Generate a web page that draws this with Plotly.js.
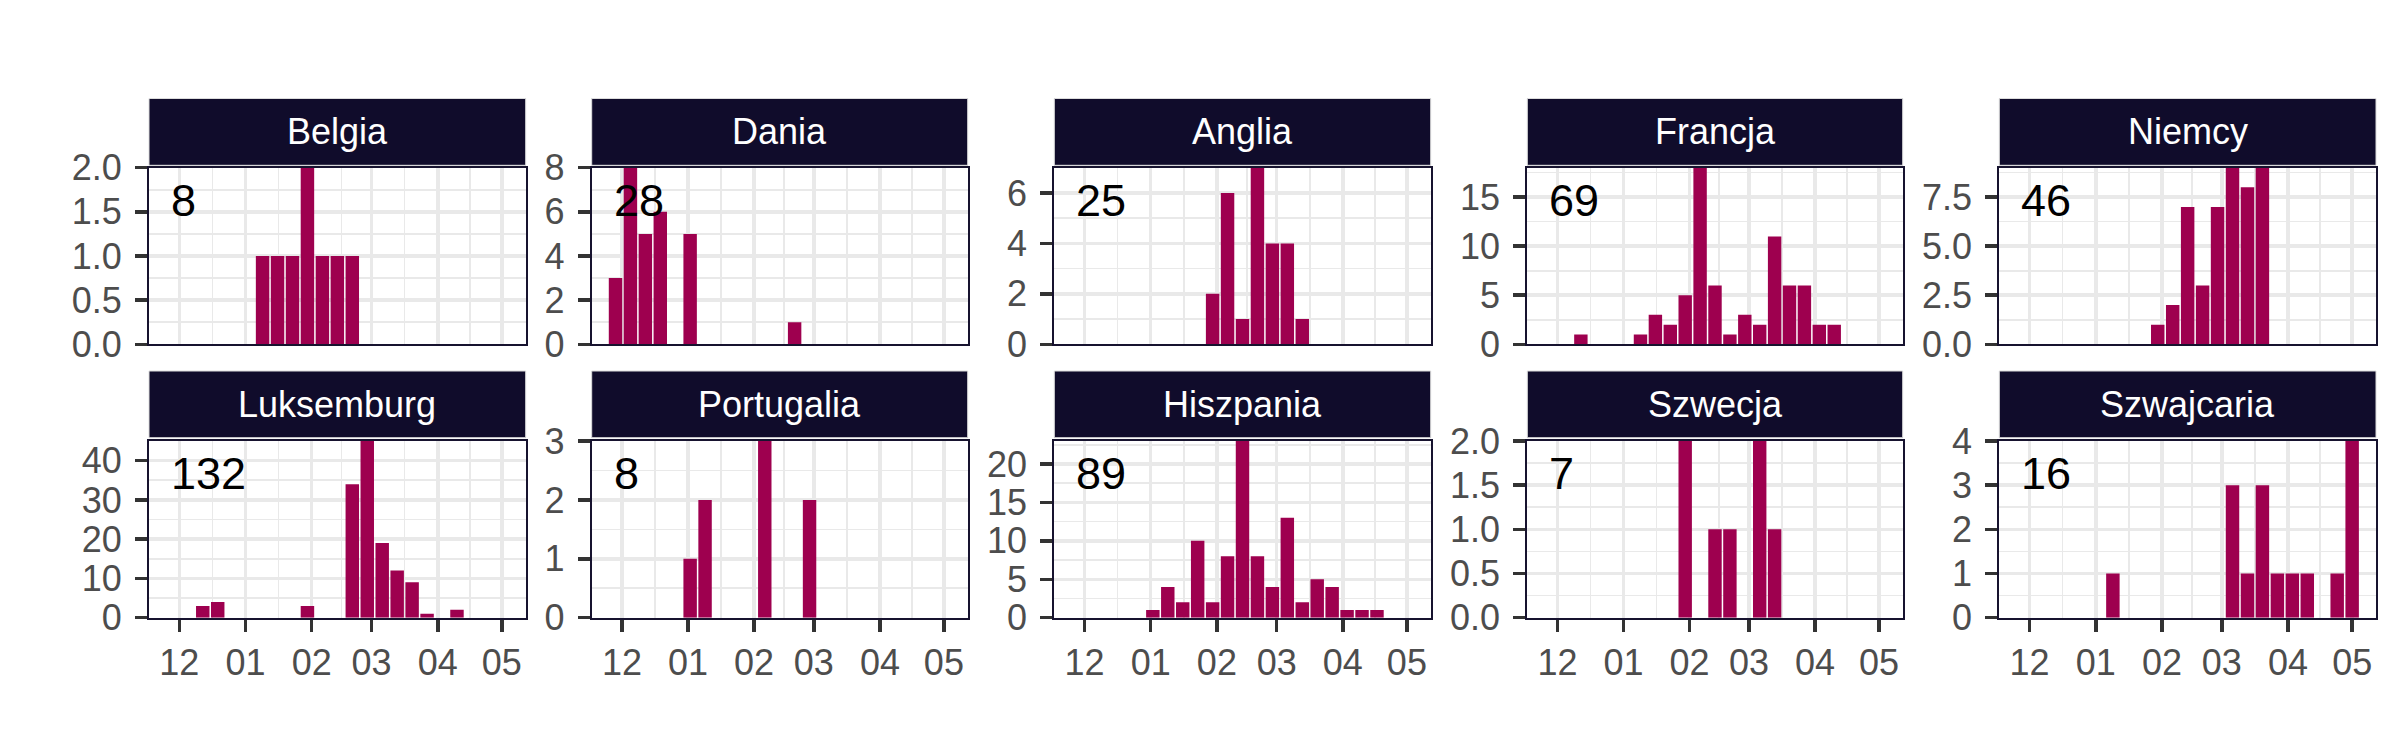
<!DOCTYPE html>
<html>
<head>
<meta charset="utf-8">
<script src="https://cdn.plot.ly/plotly-3.0.1.min.js"></script>
<style>html,body{margin:0;padding:0;background:#ffffff;}</style>
</head>
<body>
<div id="chart" style="width:2400px;height:750px;"></div>
<script>
// ---------- DATA ----------
const weeks = ['2022-11-28','2022-12-05','2022-12-12','2022-12-19','2022-12-26',
  '2023-01-02','2023-01-09','2023-01-16','2023-01-23','2023-01-30',
  '2023-02-06','2023-02-13','2023-02-20','2023-02-27',
  '2023-03-06','2023-03-13','2023-03-20','2023-03-27',
  '2023-04-03','2023-04-10','2023-04-17','2023-04-24','2023-05-01'];

const countries = ['Belgia','Dania','Anglia','Francja','Niemcy',
                   'Luksemburg','Portugalia','Hiszpania','Szwecja','Szwajcaria'];

const belgia     = [0,0,0,0,0,0,1,1,1,2,1,1,1,0,0,0,0,0,0,0,0,0,0];
const dania      = [3,8,5,6,0,5,0,0,0,0,0,0,1,0,0,0,0,0,0,0,0,0,0];
const anglia     = [0,0,0,0,0,0,0,0,0,2,6,1,7,4,4,1,0,0,0,0,0,0,0];
const francja    = [0,0,1,0,0,0,1,3,2,5,18,6,1,3,2,11,6,6,2,2,0,0,0];
const niemcy     = [0,0,0,0,0,0,0,0,0,1,2,7,3,7,9,8,9,0,0,0,0,0,0];
const luksemburg = [0,0,3,4,0,0,0,0,0,3,0,0,34,45,19,12,9,1,0,2,0,0,0];
const portugalia = [0,0,0,0,0,1,2,0,0,0,3,0,0,2,0,0,0,0,0,0,0,0,0];
const hiszpania  = [0,0,0,0,0,1,4,2,10,2,8,23,8,4,13,2,5,4,1,1,1,0,0];
const szwecja    = [0,0,0,0,0,0,0,0,0,2,0,1,1,0,2,1,0,0,0,0,0,0,0];
const szwajcaria = [0,0,0,0,0,0,1,0,0,0,0,0,0,0,3,1,3,1,1,1,0,1,4];

const totals = ['8','28','25','69','46','132','8','89','7','16'];

const monthTicks  = ['2022-12-01','2023-01-01','2023-02-01','2023-03-01','2023-04-01','2023-05-01'];
const monthLabels = ['12','01','02','03','04','05'];

// ---------- CONFIG ----------
const series = [belgia,dania,anglia,francja,niemcy,luksemburg,portugalia,hiszpania,szwecja,szwajcaria];
const yStep   = [0.5,2,2,5,2.5,10,1,5,0.5,1];
const yFmt    = ['.1f','','','','.1f','','','','.1f',''];

const W = 2400, H = 750;
const colX = [[149,525.7],[591.7,967.7],[1054.3,1430.7],[1527.3,1902.7],[1999.3,2376]];
const rowY = [[167.7,344.3],[441,617.7]];
const stripY = [[98.5,165.3],[371,437.7]];

const barColor = '#9e004f';
const stripColor = '#100c2b';
const borderColor = '#17132f';
const gridColor = '#e9e9e9';
const font = 'Liberation Sans, Arial, sans-serif';
const tickSize = 36;

const xRange = ['2022-11-16 20:02','2023-05-12 03:58'];
function mid(a,b){ const t=(new Date(a+'T00:00:00Z').getTime()+new Date(b+'T00:00:00Z').getTime())/2; return new Date(t).toISOString().replace('T',' ').slice(0,19); }
const minorX = [];
for (let i=0;i<monthTicks.length-1;i++) minorX.push(mid(monthTicks[i],monthTicks[i+1]));

const data = [];
const layout = {
  width: W, height: H,
  margin: {l:0,r:0,t:0,b:0},
  paper_bgcolor: '#ffffff', plot_bgcolor: '#ffffff',
  showlegend: false, bargap: 0.1,
  font: {family: font},
  shapes: [], annotations: []
};

countries.forEach((name,i)=>{
  const r = Math.floor(i/5), c = i%5;
  const ax = i===0 ? '' : String(i+1);
  data.push({
    type:'bar', x: weeks, y: series[i],
    xaxis:'x'+ax, yaxis:'y'+ax,
    marker:{color:barColor, line:{width:0}},
    hoverinfo:'skip'
  });
  const [x0,x1] = colX[c], [y0,y1] = rowY[r];
  const ymax = Math.max(...series[i]);
  layout['xaxis'+ax] = {
    type:'date', domain:[x0/W, x1/W], range: xRange, anchor:'y'+ax,
    tickmode:'array', tickvals: monthTicks, ticktext: monthLabels,
    showticklabels: r===1, ticks: r===1 ? 'outside' : '',
    ticklen: 12, tickwidth: 3.5, tickcolor:'#333333',
    tickfont:{family:font, size:tickSize, color:'#4d4d4d'},
    showgrid:true, gridcolor:gridColor, gridwidth:3.5,
    minor:{tickmode:'array', tickvals:minorX, showgrid:true, gridcolor:gridColor, gridwidth:1.6, ticks:''},
    showline:true, mirror:true, linecolor:borderColor, linewidth:2,
    zeroline:false, fixedrange:true
  };
  layout['yaxis'+ax] = {
    domain:[1-y1/H, 1-y0/H], range:[0,ymax], anchor:'x'+ax,
    tickmode:'linear', tick0:0, dtick:yStep[i], tickformat:yFmt[i],
    ticks:'outside', ticklen:12, tickwidth:3.5, tickcolor:'#333333',
    ticklabelstandoff: 6,
    tickfont:{family:font, size:tickSize, color:'#4d4d4d'},
    showgrid:true, gridcolor:gridColor, gridwidth:3.5,
    minor:{tick0:0, dtick:yStep[i]/2, showgrid:true, gridcolor:gridColor, gridwidth:1.6, ticks:''},
    showline:true, mirror:true, linecolor:borderColor, linewidth:2,
    zeroline:false, fixedrange:true
  };
  const [s0,s1] = stripY[r];
  layout.shapes.push({
    type:'rect', xref:'paper', yref:'paper',
    x0:x0/W, x1:x1/W, y0:1-s1/H, y1:1-s0/H,
    fillcolor:stripColor, line:{color:'#dcdcdc', width:1}, layer:'above'
  });
  layout.annotations.push({
    xref:'paper', yref:'paper', x:(x0+x1)/2/W, y:1-((s0+s1)/2)/H,
    xanchor:'center', yanchor:'middle', showarrow:false,
    text:name, font:{family:font, size:tickSize, color:'#ffffff'}
  });
  layout.annotations.push({
    xref:'paper', yref:'paper', x:(x0+20)/W, y:1-(y0+32.5)/H,
    xanchor:'left', yanchor:'middle', showarrow:false,
    text:totals[i], font:{family:font, size:45, color:'#000000'}
  });
});

Plotly.newPlot('chart', data, layout, {displayModeBar:false, staticPlot:true});
</script>
</body>
</html>
